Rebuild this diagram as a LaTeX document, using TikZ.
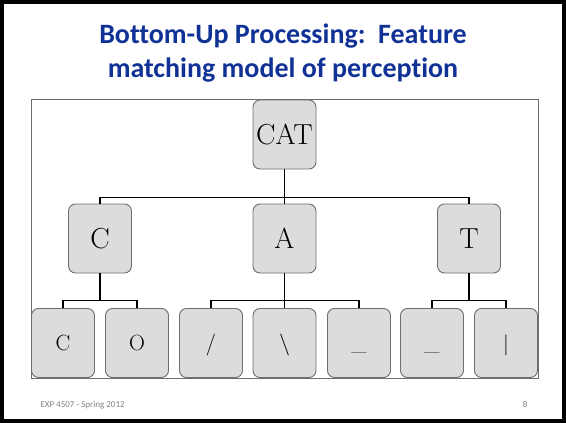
\documentclass[tikz,border=0pt]{standalone}
\usepackage{fontspec}
\newfontfamily\calibri[Ligatures=CommonOff]{Carlito}
\usetikzlibrary{positioning}
\definecolor{titleblue}{RGB}{16,50,150}
\definecolor{boxline}{RGB}{110,110,110}
\definecolor{boxfill}{RGB}{220,220,220}

\begin{document}
\begin{tikzpicture}[x=1pt, y=-1pt,
    letter/.style={draw=boxline, fill=boxfill, rounded corners=7pt, line width=0.9pt,
      minimum width=63pt, minimum height=69pt, inner sep=0pt},
    big/.style={letter, font=\fontsize{29}{29}\selectfont},
    small/.style={letter, font=\fontsize{22}{22}\selectfont, text height=15pt, text depth=0pt},
    link/.style={line width=1.4pt, black}]
    \useasboundingbox (0,0) rectangle (566,423);
    \draw[line width=4pt] (2,2) rectangle (564,421);
    % title
    \node[font=\calibri\bfseries\fontsize{28}{34}\selectfont, text=titleblue, align=center, anchor=base]
      (title) at (283,77) {Bottom-Up Processing:\ \ Feature\\matching model of perception};
    % picture frame
    \draw[boxline, line width=0.8pt] (31,99) rectangle (538,378);
    % top level
    \node[big] (cat) at (284.5,134.5) {CAT};
    % letters
    \node[big] (c) at (100,238.5) {C};
    \node[big] (a) at (284.5,238.5) {A};
    \node[big] (t) at (469,238.5) {T};
    % features
    \node[small] (f1) at (63,343) {C};
    \node[small] (f2) at (137,343) {O};
    \node[small] (f3) at (211,343) {/};
    \node[small] (f4) at (284.5,343) {\textbackslash};
    \node[small] (f5) at (359,343) {\_};
    \node[small] (f6) at (432,343) {\_};
    \node[small] (f7) at (506,343) {$|$};
    \draw[link] (cat.south) -- ++(0,28) -| (c.north);
    \draw[link] (cat.south) -- (a.north);
    \draw[link] (cat.south) -- ++(0,28) -| (t.north);
    \draw[link] (c.south) -- ++(0,27) -| (f1.north);
    \draw[link] (c.south) -- ++(0,27) -| (f2.north);
    \draw[link] (a.south) -- ++(0,27) -| (f3.north);
    \draw[link] (a.south) -- (f4.north);
    \draw[link] (a.south) -- ++(0,27) -| (f5.north);
    \draw[link] (t.south) -- ++(0,27) -| (f6.north);
    \draw[link] (t.south) -- ++(0,27) -| (f7.north);
    % footer
    \node[font=\calibri\fontsize{9}{9}\selectfont, text=gray, anchor=base west] (foot) at (37,407) {EXP 4507 - Spring 2012};
    \node[font=\calibri\fontsize{9}{9}\selectfont, text=gray, anchor=base east] (page) at (531,407) {8};
\end{tikzpicture}
\end{document}
